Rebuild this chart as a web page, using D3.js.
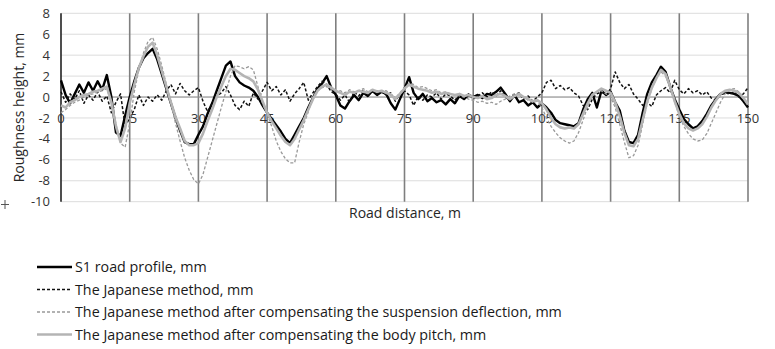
<!DOCTYPE html>
<html lang="en">
<head>
<meta charset="utf-8">
<title>Road roughness profiles</title>
<script src="https://d3js.org/d3.v7.min.js"></script>
<style>
  body { margin: 0; background: #fff; font-family: 'Open Sans', sans-serif; }
  .tick-label { font-size: 13px; fill: #333; }
  .axis-title { font-size: 14px; fill: #262626; }
  .legend-text { font-size: 14.3px; fill: #1a1a1a; }
</style>
</head>
<body>
<div id="chart"></div>
<script>

// road distance, m (one sample per metre)
var distance = d3.range(0, 151);

// S1 road profile, mm
var s1Profile = [
  1.6, 0.2, -0.6, 0.3, 1.2, 0.4, 1.4, 0.6, 1.5, 0.7,
  2.1, 0.0, -3.4, -3.7, -1.8, 0.0, 1.5, 2.8, 3.7, 4.2,
  4.6, 3.6, 2.2, 0.8, -0.6, -2.0, -3.2, -4.3, -4.5, -4.5,
  -3.6, -2.8, -1.6, -0.6, 0.6, 1.8, 3.0, 3.4, 2.0, 1.4,
  1.1, 0.9, 0.6, 0.0, -0.8, -1.5, -2.1, -2.7, -3.3, -4.0,
  -4.4, -3.6, -2.8, -2.0, -1.0, -0.1, 0.8, 1.3, 2.0, 0.9,
  0.2, -0.8, -1.1, -0.4, 0.2, -0.3, 0.4, 0.1, 0.6, 0.2,
  0.5, 0.3, -0.6, -1.2, -0.2, 0.8, 1.9, 0.4, -0.2, 0.3,
  -0.4, -0.1, -0.5, -0.3, -0.7, -0.2, -0.6, 0.1, -0.2, 0.2,
  0.0, 0.2, -0.1, 0.3, 0.2, 0.5, 0.9, 0.3, -0.4, 0.2,
  -0.5, -0.3, -0.8, -0.5, -1.0, -0.6, -1.0, -1.5, -2.2, -2.5,
  -2.6, -2.7, -2.8, -2.5, -1.2, -0.2, 0.4, -1.0, 0.6, 0.2,
  0.5, -0.5, -1.3, -3.2, -4.3, -4.4, -3.6, -1.5, 0.3, 1.4,
  2.1, 2.9, 2.4, 1.0, -0.2, -1.2, -2.1, -2.6, -3.0, -2.8,
  -2.3, -1.6, -0.8, -0.2, 0.3, 0.4, 0.4, 0.3, 0.1, -0.4,
  -1.0
];

// The Japanese method, mm
var japanese = [
  0.5, -0.5, 0.3, -0.2, 0.6, -0.6, 0.2, -0.3, 0.5, -0.4,
  0.1, -1.5, -0.5, 0.3, -2.8, -2.0, -1.2, 0.2, -0.8, 0.0,
  -0.4, 0.2, -0.3, 0.6, 1.2, 0.3, 1.3, 0.6, 0.2, 0.6,
  0.9, -0.4, -1.4, -0.6, 0.1, 0.4, 1.0, 0.2, -0.8, -1.2,
  -0.4, -0.9, 0.4, -0.2, 0.6, 1.4, 0.6, 1.0, 0.2, 0.7,
  -0.4, 0.3, 0.8, 1.4, -0.3, 0.4, 1.0, 1.5, 1.2, 0.5,
  0.3, -0.3, 0.2, -0.5, 0.5, 0.1, 0.7, 0.2, 0.5, 0.3,
  0.6, 0.2, 0.4, -0.4, 0.3, 0.6, 0.2, -0.8, 0.1, -0.3,
  0.2, 0.0, 0.4, -0.2, 0.3, 0.1, -0.3, 0.2, 0.0, 0.3,
  -0.2, 0.1, 0.4, 0.0, 0.5, 0.1, 0.6, 0.0, -0.3, 0.2,
  0.4, -0.2, 0.1, -0.4, 0.0, 0.4, 1.4, 1.6, 0.8, 1.1,
  0.7, 0.9, 0.4, 0.1, -0.8, -1.2, -0.2, 0.3, 0.5, 0.2,
  0.8, 2.4, 1.4, 0.8, 1.2, 0.3, -0.2, -0.8, -0.5, -0.9,
  0.2, 0.6, 0.9, 0.4, 1.6, 0.7, 0.3, 0.8, 0.4, 0.6,
  0.2, 0.5, -0.1, -0.3, 0.2, 0.4, 0.3, 0.5, 0.0, 0.3,
  0.9
];

// The Japanese method after compensating the suspension deflection, mm
var suspension = [
  -1.5, -1.2, -0.8, -0.5, -0.3, 0.0, 0.2, 0.3, 0.5, 0.6,
  0.8, -0.5, -2.6, -4.4, -4.8, -2.5, 0.5, 2.6, 4.2, 5.3,
  5.7, 4.6, 3.0, 1.2, -0.6, -2.5, -4.2, -5.8, -7.0, -7.9,
  -8.3, -7.4, -5.8, -4.2, -2.6, -1.0, 0.5, 2.0, 3.0, 2.9,
  2.7, 2.9, 2.6, 1.0, -0.6, -1.6, -2.8, -4.2, -5.2, -5.9,
  -6.3, -6.3, -4.3, -2.6, -1.4, 0.0, 0.6, 0.9, 1.0, 0.8,
  0.5, 0.6, 0.4, 0.7, 0.5, 0.6, 0.8, 0.5, 0.7, 0.6,
  0.5, 0.6, 0.3, -0.1, 0.4, 0.9, 1.3, 1.2, 0.9, 1.0,
  0.8, 0.6, 0.7, 0.4, 0.5, 0.3, 0.2, 0.1, 0.0, -0.2,
  -0.3, -0.5, -0.4, -0.6, -0.5, -0.7, -0.4, -0.2, 0.1, 0.3,
  0.2, 0.0, -0.3, -0.5, -0.4, -1.0, -2.0, -2.8, -3.4, -3.9,
  -4.2, -4.4, -4.2, -3.4, -2.2, -0.9, 0.1, 0.5, 0.6, 0.3,
  0.0, -1.0, -2.6, -4.3, -5.8, -5.6, -4.6, -2.6, -0.6, 0.8,
  1.8, 2.4, 2.0, 0.9, -0.5, -1.8, -2.8, -3.5, -4.0, -4.2,
  -4.1, -3.5, -2.5, -1.5, -0.5, 0.3, 0.7, 0.8, 0.5, 0.0,
  -0.8
];

// The Japanese method after compensating the body pitch, mm
var bodyPitch = [
  -0.8, -1.0, -0.5, -0.3, 0.0, 0.2, 0.3, 0.5, 0.6, 0.8,
  1.0, -0.5, -2.8, -4.3, -3.0, -0.6, 1.2, 2.8, 3.9, 4.8,
  5.2, 4.0, 2.5, 1.0, -0.5, -1.9, -3.0, -4.2, -4.6, -4.6,
  -4.4, -3.5, -2.3, -1.2, 0.0, 1.0, 2.0, 2.7, 2.6, 2.3,
  2.0, 1.8, 1.5, 0.7, -0.4, -1.5, -2.3, -3.0, -3.7, -4.3,
  -4.6, -4.0, -3.1, -2.2, -1.2, -0.2, 0.6, 1.0, 1.2, 0.9,
  0.6, 0.4, 0.2, 0.5, 0.4, 0.6, 0.5, 0.4, 0.7, 0.5,
  0.6, 0.4, 0.2, -0.2, 0.3, 0.8, 1.2, 1.0, 0.8, 0.7,
  0.6, 0.4, 0.5, 0.3, 0.4, 0.3, 0.2, 0.3, 0.1, 0.2,
  0.0, -0.1, 0.1, -0.2, -0.1, 0.2, 0.3, 0.1, -0.2, 0.1,
  0.3, 0.0, -0.2, -0.4, -0.3, -0.6, -1.2, -2.0, -2.6, -2.9,
  -3.0, -2.9, -3.0, -2.6, -1.6, -0.6, 0.2, 0.5, 0.8, 0.6,
  0.4, -0.5, -1.8, -3.4, -4.6, -4.7, -4.0, -2.2, -0.4, 0.9,
  1.8, 2.6, 2.2, 1.0, -0.4, -1.6, -2.5, -3.0, -3.2, -3.0,
  -2.6, -1.9, -1.0, -0.3, 0.3, 0.6, 0.7, 0.6, 0.4, -0.1,
  -0.7
];

var xTicks = [0, 15, 30, 45, 60, 75, 90, 105, 120, 135, 150];
var yTicks = [-10, -8, -6, -4, -2, 0, 2, 4, 6, 8];

var series = [
  {name: "S1 road profile, mm", values: s1Profile, color: "#000", width: 2.4, dash: null},
  {name: "The Japanese method, mm", values: japanese, color: "#111", width: 1.5, dash: "3,2"},
  {name: "The Japanese method after compensating the suspension deflection, mm", values: suspension, color: "#999", width: 1.3, dash: "3,2"},
  {name: "The Japanese method after compensating the body pitch, mm", values: bodyPitch, color: "#b4b4b4", width: 2.6, dash: null}
];

var W = 775, H = 349;
var plot = {left: 61, right: 748, top: 13.3, bottom: 201.7};

var svg = d3.select("#chart")
  .append("svg")
    .attr("width", W)
    .attr("height", H);

var x = d3.scaleLinear()
  .domain([0, 150])
  .range([plot.left, plot.right]);

var y = d3.scaleLinear()
  .domain([-10, 8])
  .range([plot.bottom, plot.top]);

// horizontal gridlines
svg.append("g")
  .selectAll("line")
  .data(yTicks)
  .enter()
  .append("line")
    .attr("x1", plot.left)
    .attr("x2", plot.right)
    .attr("y1", function(d) { return y(d) })
    .attr("y2", function(d) { return y(d) })
    .attr("stroke", "#dcdcdc")
    .attr("stroke-width", 1);

// vertical gridlines every 15 m
svg.append("g")
  .selectAll("line")
  .data(xTicks.slice(1))
  .enter()
  .append("line")
    .attr("x1", function(d) { return x(d) })
    .attr("x2", function(d) { return x(d) })
    .attr("y1", plot.top)
    .attr("y2", plot.bottom)
    .attr("stroke", "#7f7f7f")
    .attr("stroke-width", 1.6);

// zero axis line
svg.append("line")
  .attr("x1", plot.left)
  .attr("x2", plot.right)
  .attr("y1", y(0))
  .attr("y2", y(0))
  .attr("stroke", "#8c8c8c")
  .attr("stroke-width", 1);

// y axis line
svg.append("line")
  .attr("x1", x(0))
  .attr("x2", x(0))
  .attr("y1", plot.top)
  .attr("y2", plot.bottom)
  .attr("stroke", "#222")
  .attr("stroke-width", 1.6);

// y tick labels
svg.append("g")
  .selectAll("text")
  .data(yTicks)
  .enter()
  .append("text")
    .attr("class", "tick-label")
    .attr("x", 50)
    .attr("y", function(d) { return y(d) })
    .attr("dy", "0.35em")
    .attr("text-anchor", "end")
    .text(function(d) { return d });

// x tick labels sit just under the zero line
svg.append("g")
  .selectAll("text")
  .data(xTicks)
  .enter()
  .append("text")
    .attr("class", "tick-label")
    .attr("x", function(d) { return x(d) })
    .attr("y", y(0) + 21)
    .attr("dy", "0.35em")
    .attr("text-anchor", "middle")
    .text(function(d) { return d });

// the lines
var line = d3.line()
  .x(function(d, i) { return x(distance[i]) })
  .y(function(d) { return y(d) });

series.forEach(function(s) {
  svg.append("path")
    .datum(s.values)
    .attr("d", line)
    .attr("fill", "none")
    .attr("stroke", s.color)
    .attr("stroke-width", s.width)
    .attr("stroke-linejoin", "round")
    .attr("stroke-dasharray", s.dash);
});

// axis titles
svg.append("text")
  .attr("class", "axis-title")
  .attr("transform", "translate(19," + ((plot.top + plot.bottom) / 2) + ") rotate(-90)")
  .attr("text-anchor", "middle")
  .attr("dy", "0.35em")
  .text("Roughness height, mm");

svg.append("text")
  .attr("class", "axis-title")
  .attr("x", 405)
  .attr("y", 213)
  .attr("dy", "0.35em")
  .attr("text-anchor", "middle")
  .text("Road distance, m");

// small cross mark at bottom left
svg.append("path")
  .attr("d", "M1,204.5H9M5,200V209")
  .attr("stroke", "#555")
  .attr("stroke-width", 1);

// legend
var legend = svg.append("g")
  .selectAll("g")
  .data(series)
  .enter()
  .append("g")
    .attr("transform", function(d, i) { return "translate(0," + (267 + i * 22.5) + ")" });

legend.append("line")
  .attr("x1", 37)
  .attr("x2", 72)
  .attr("stroke", function(d) { return d.color })
  .attr("stroke-width", function(d) { return d.width })
  .attr("stroke-dasharray", function(d) { return d.dash });

legend.append("text")
  .attr("class", "legend-text")
  .attr("x", 75)
  .attr("dy", "0.35em")
  .text(function(d) { return d.name });

</script>
</body>
</html>
